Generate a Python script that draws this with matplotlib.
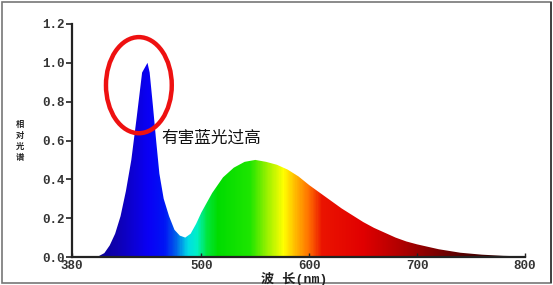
import matplotlib
matplotlib.use("Agg")
import matplotlib.pyplot as plt
import numpy as np
from matplotlib.colors import LinearSegmentedColormap
from matplotlib.patches import Ellipse, Rectangle, Polygon

# ---- data ----
wavelength = [380, 400, 405, 410, 415, 420, 425, 430, 435, 440, 445, 450, 452,
              455, 458, 461, 465, 470, 475, 480, 485, 490, 495, 500, 505, 510,
              515, 520, 530, 540, 550, 560, 570, 580, 590, 600, 610, 620, 630,
              640, 650, 660, 670, 680, 690, 700, 720, 740, 760, 780, 800]
intensity = [0.0, 0.0, 0.005, 0.02, 0.06, 0.12, 0.21, 0.34, 0.5, 0.72, 0.95, 1.0, 0.95,
             0.78, 0.6, 0.43, 0.3, 0.21, 0.14, 0.11, 0.1, 0.12, 0.17, 0.23, 0.28, 0.33,
             0.37, 0.41, 0.46, 0.49, 0.5, 0.49, 0.475, 0.45, 0.415, 0.37, 0.33, 0.29, 0.25,
             0.215, 0.18, 0.15, 0.125, 0.1, 0.08, 0.065, 0.04, 0.022, 0.012, 0.006, 0.003]

x_ticks = [380, 500, 600, 700, 800]
y_ticks = [0.0, 0.2, 0.4, 0.6, 0.8, 1.0, 1.2]
x_label = "波 长(nm)"
y_label = "相\n对\n光\n谱"
note = "有害蓝光过高"

# spectral colour stops (wavelength, rgb)
stop_nm = [380, 420, 450, 465, 475, 487, 495, 505, 515, 545, 560, 576, 588, 600, 612, 650, 690, 740, 800]
stop_rgb = [(0, 0, 120), (15, 0, 175), (10, 0, 245), (0, 20, 245), (0, 90, 235), (0, 220, 230),
            (0, 240, 200), (0, 230, 60), (0, 220, 0), (30, 230, 0), (150, 240, 0), (255, 255, 0),
            (255, 180, 0), (255, 110, 0), (235, 20, 0), (225, 0, 0), (170, 0, 0), (90, 0, 0), (25, 0, 0)]

# ---- figure ----
W, H = 553, 285
fig = plt.figure(figsize=(W / 100, H / 100), dpi=100)
fig.patch.set_facecolor("white")
ax = fig.add_axes([72 / W, 1 - 257 / H, (525 - 72) / W, (257 - 24) / H])

xmin, xmax = 380, 800
span = xmax - xmin
cmap = LinearSegmentedColormap.from_list(
    "spec", [((n - xmin) / span, tuple(c / 255 for c in rgb)) for n, rgb in zip(stop_nm, stop_rgb)])

grad = np.linspace(0, 1, 600)[None, :]
im = ax.imshow(grad, extent=[xmin, xmax, 0, 1.2], aspect="auto", cmap=cmap,
               origin="lower", interpolation="bilinear", zorder=1)
verts = list(zip(wavelength, intensity)) + [(wavelength[-1], 0), (wavelength[0], 0)]
poly = Polygon(verts, closed=True, facecolor="none", edgecolor="none", transform=ax.transData)
ax.add_patch(poly)
im.set_clip_path(poly)

ax.set_xlim(xmin, xmax)
ax.set_ylim(0, 1.2)
ax.set_xticks(x_ticks)
ax.set_yticks(y_ticks)
ax.set_yticklabels([f"{v:.1f}" for v in y_ticks])
for s in ["top", "right"]:
    ax.spines[s].set_visible(False)
for s in ["left", "bottom"]:
    ax.spines[s].set_linewidth(1.6)
    ax.spines[s].set_color("#222222")
ax.tick_params(axis="y", direction="out", length=4, width=1.2, pad=1, colors="#222222")
ax.tick_params(axis="x", direction="in", length=3, width=1.0, pad=2, colors="#222222")
for lab in ax.get_xticklabels() + ax.get_yticklabels():
    lab.set_family("Liberation Mono")
    lab.set_fontweight("bold")
    lab.set_fontsize(9)
    lab.set_color("#333333")

# red ellipse annotation
ax.add_patch(Ellipse((442, 0.885), 61, 0.495, fill=False, edgecolor="#ee1111", lw=3.2, zorder=5))
ax.text(509, 0.613, note, fontsize=12, family=["Noto Sans CJK SC", "DejaVu Sans"],
        ha="center", va="center", color="#111111", zorder=6)

# axis labels
fig.text(294 / W, 1 - 279 / H, x_label, ha="center", va="center", fontsize=9.5, fontweight="bold",
         family=["Liberation Mono", "Noto Sans CJK SC"], color="#222222")
fig.text(20 / W, 1 - 141 / H, y_label, ha="center", va="center", fontsize=6, fontweight="bold",
         family=["Noto Sans CJK SC", "DejaVu Sans"], linespacing=1.25, color="#222222")

# outer frame
fig.add_artist(Rectangle((1.5 / W, 1 - 283 / H), 549 / W, 281 / H, transform=fig.transFigure,
                         fill=False, edgecolor="#777777", lw=1.2))
fig.add_artist(Rectangle((550 / W, 1 - 283 / H), 1.8 / W, 281 / H, transform=fig.transFigure,
                         fill=True, facecolor="#444444", edgecolor="none"))

fig.savefig("out.png", dpi=100)
